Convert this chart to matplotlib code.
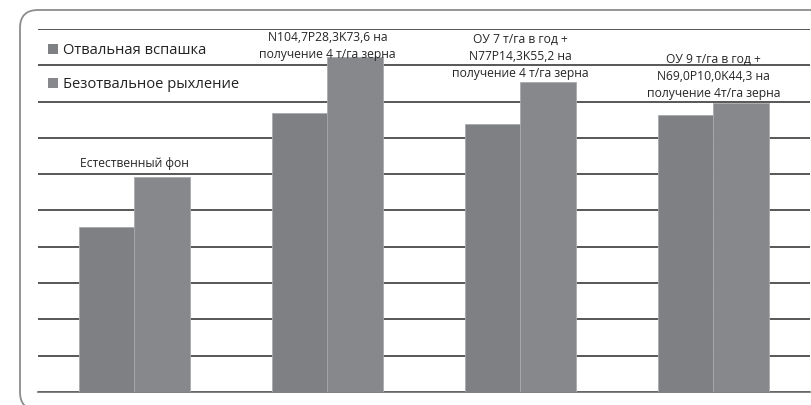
import numpy as np
import matplotlib
matplotlib.use('Agg')
import matplotlib.pyplot as plt
from matplotlib.patches import FancyBboxPatch, Patch

plt.rcParams['font.family'] = ['Open Sans', 'DejaVu Sans']

# variants of fertilization (group labels above the bars)
groups = [
    "Естественный фон",
    "N104,7P28,3K73,6 на\nполучение 4 т/га зерна",
    "ОУ 7 т/га в год +\nN77P14,3K55,2 на\nполучение 4 т/га зерна",
    "ОУ 9 т/га в год +\nN69,0P10,0K44,3 на\nполучение 4т/га зерна",
]
series_names = ["Отвальная вспашка", "Безотвальное рыхление"]
plowing = [4.55, 7.69, 7.38, 7.63]
loosening = [5.92, 9.23, 8.54, 7.96]

COLORS = ["#7f8084", "#87888c"]
LABEL_OFFSETS = [7, -4, 2, 3]   # pixels above the taller bar

fig = plt.figure(figsize=(8.12, 4.05), dpi=100)

# rounded frame around the chart, in inches so it runs off the right edge
frame = FancyBboxPatch((0.20, -0.05), 10.0, 4.05 - 0.10 + 0.05,
                       boxstyle="round,pad=0,rounding_size=0.18",
                       transform=fig.dpi_scale_trans, facecolor="none",
                       edgecolor="#8c8c8c", linewidth=1.3, zorder=-1)
fig.patches.append(frame)

ax = fig.add_axes([38 / 812, 1 - 392 / 405, (810 - 38) / 812, (392 - 29) / 405])
ax.set_facecolor("none")

x = np.arange(len(groups))
w = 0.285
ax.bar(x - w / 2, plowing, w, color=COLORS[0], edgecolor="#a9aaad", linewidth=0.6, zorder=3)
ax.bar(x + w / 2, loosening, w, color=COLORS[1], edgecolor="#a9aaad", linewidth=0.6, zorder=3)

ax.set_xlim(-0.5, len(groups) - 0.5)
ax.set_ylim(0, 10)
ax.set_yticks(np.arange(0, 11))
ax.grid(axis="y", color="#2a2a2a", linewidth=1.1, zorder=1)
ax.set_axisbelow(True)
for s in ["left", "right", "top"]:
    ax.spines[s].set_visible(False)
ax.spines["bottom"].set_color("#6a6a6a")
ax.spines["bottom"].set_linewidth(1.2)
ax.tick_params(left=False, bottom=False, labelleft=False, labelbottom=False)

for i, label in enumerate(groups):
    top = max(plowing[i], loosening[i])
    ax.annotate(label, xy=(i, top), xytext=(0, LABEL_OFFSETS[i]),
                textcoords="offset pixels", ha="center", va="bottom",
                fontsize=8.7, color="#262626", linespacing=1.4, zorder=4)

handles = [Patch(facecolor=c, edgecolor="none") for c in COLORS]
ax.legend(handles, series_names, loc="upper left", bbox_to_anchor=(0.005, 0.978),
          frameon=False, fontsize=10.6, handlelength=0.68, handleheight=0.68,
          handletextpad=0.35, labelspacing=1.32, borderaxespad=0,
          labelcolor="#222222")

fig.savefig("out.png", dpi=100)
